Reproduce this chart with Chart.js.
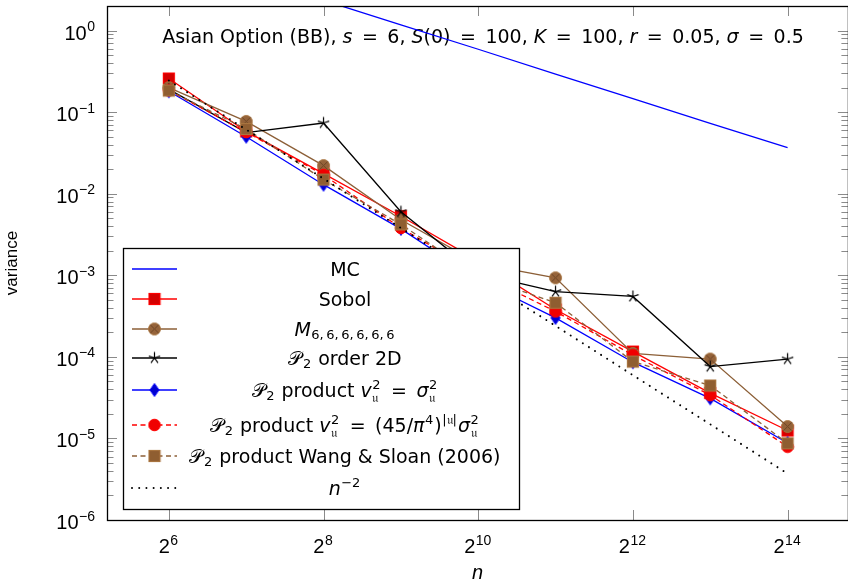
<!DOCTYPE html>
<html><head><meta charset="utf-8">
<script src="https://cdn.jsdelivr.net/npm/chart.js@4.4.1/dist/chart.umd.min.js"></script>
<style>html,body{margin:0;padding:0;background:#fff}canvas{display:block}</style>
</head><body>
<canvas id="c" width="848" height="582"></canvas>
<script>
// ---------------- data ----------------
const nValues   = [64, 128, 256, 512, 1024, 2048, 4096, 8192, 16384];
const mcVar     = [9.4, 4.7, 2.35, 1.17, 0.59, 0.293, 0.146, 0.073, 0.0366];
const sobolVar  = [0.258, 0.058, 0.0176, 0.0053, 0.0015, 0.00038, 0.000116, 0.000036, 0.0000125];
const mNetVar   = [0.2, 0.077, 0.0221, 0.0048, 0.0014, 0.00093, 0.00011, 0.000094, 0.000014];
const order2DVar= [0.19, 0.056, 0.0736, 0.006, 0.00105, 0.00063, 0.00055, 0.000076, 0.000094];
const prodSigVar= [0.18, 0.05, 0.0129, 0.0037, 0.00088, 0.0003, 0.000086, 0.000031, 0.0000088];
const prod45Var = [0.185, 0.057, 0.017, 0.0038, 0.00105, 0.00036, 0.000105, 0.000034, 0.0000079];
const wangSloanVar = [0.184, 0.0622, 0.0149, 0.0042, 0.00098, 0.00046, 0.0000875, 0.0000445, 0.0000087];
const nMinus2   = [0.244, 0.061, 0.0153, 0.0038, 0.00095, 0.00024, 0.0000596, 0.0000149, 0.0000037];

const xTickValues = [64, 256, 1024, 4096, 16384];
const xTickBase = '2';
const xTickExponents = ['6', '8', '10', '12', '14'];
const yTickValues = [1e-6, 1e-5, 1e-4, 1e-3, 1e-2, 1e-1, 1];
const yTickBase = '10';
const yTickExponents = ['−6', '−5', '−4', '−3', '−2', '−1', '0'];

const EQ = '\u2002=\u2002';
const titleRuns = [{t:'Asian Option (BB), '},{t:'s',i:1},{t:EQ + '6, '},{t:'S',i:1},{t:'(0)' + EQ + '100, '},
  {t:'K',i:1},{t:EQ + '100, '},{t:'r',i:1},{t:EQ + '0.05, '},{t:'σ',i:1},{t:EQ + '0.5'}];
const legendLabels = [
  [{t:'MC'}],
  [{t:'Sobol'}],
  [{t:'M',i:1},{sub:'6,\u20096,\u20096,\u20096,\u20096,\u20096'}],
  [{t:'𝒫',c:1},{sub:'2'},{t:' order 2D'}],
  [{t:'𝒫',c:1},{sub:'2'},{t:' product '},{t:'v',i:1},{sup:'2',sub:'𝔲'},{t:EQ},{t:'σ',i:1},{sup:'2',sub:'𝔲'}],
  [{t:'𝒫',c:1},{sub:'2'},{t:' product '},{t:'v',i:1},{sup:'2',sub:'𝔲'},{t:EQ + '(45/'},{t:'π',i:1},{sup:'4'},{t:')'},{sup:'|𝔲|'},{t:'σ',i:1},{sup:'2',sub:'𝔲'}],
  [{t:'𝒫',c:1},{sub:'2'},{t:' product Wang & Sloan (2006)'}],
  [{t:'n',i:1},{sup:'−2'}]
];

// ---------------- styles ----------------
const FONT = '"DejaVu Sans", sans-serif';
const TICKFONT = '"Liberation Sans", Arial, sans-serif';
const CALFONT = '"DejaVu Serif", "DejaVu Sans", serif';
const BROWN = '#8c5f37';

function mk(w, h, draw) { const c = document.createElement('canvas'); c.width = w; c.height = h; draw(c.getContext('2d'), w, h); return c; }
const sqRed = mk(14, 14, g => { g.fillStyle = '#d40000'; g.strokeStyle = '#ff0000'; g.lineWidth = 1.2; g.fillRect(1.5,1.5,11,11); g.strokeRect(1.5,1.5,11,11); });
const sqBrown = mk(14, 14, g => { g.fillStyle = '#8f5e31'; g.strokeStyle = '#a8743f'; g.lineWidth = 1.2; g.fillRect(1.5,1.5,11,11); g.strokeRect(1.5,1.5,11,11); });
const otimes = mk(15, 15, g => { g.fillStyle = '#95633a'; g.strokeStyle = '#a8743f'; g.lineWidth = 1;
  g.beginPath(); g.arc(7.5,7.5,6,0,Math.PI*2); g.fill(); g.stroke();
  g.strokeStyle = '#6e4626'; g.beginPath(); const d = 4.2; g.moveTo(7.5-d,7.5-d); g.lineTo(7.5+d,7.5+d); g.moveTo(7.5+d,7.5-d); g.lineTo(7.5-d,7.5+d); g.stroke(); });
const star5 = mk(15, 15, g => { g.strokeStyle = '#000'; g.lineWidth = 1.2; g.beginPath();
  for (let k = 0; k < 5; k++) { const a = -Math.PI/2 + k*2*Math.PI/5; g.moveTo(7.5,7.5); g.lineTo(7.5+6*Math.cos(a), 7.5+6*Math.sin(a)); } g.stroke(); });
const diamond = mk(12, 16, g => { g.fillStyle = '#0000d0'; g.strokeStyle = '#0000ff'; g.lineWidth = 1;
  g.beginPath(); g.moveTo(6,1.5); g.lineTo(10.5,8); g.lineTo(6,14.5); g.lineTo(1.5,8); g.closePath(); g.fill(); g.stroke(); });
const dotRed = mk(14, 14, g => { g.fillStyle = '#f00000'; g.strokeStyle = '#ff0000'; g.lineWidth = 1; g.beginPath(); g.arc(7,7,5.8,0,Math.PI*2); g.fill(); g.stroke(); });

const pts = arr => arr.map((v, i) => ({x: nValues[i], y: v}));
function ds(label, arr, color, mark, dash, order, width) {
  return { label, data: pts(arr), borderColor: color, backgroundColor: color, borderWidth: width || 1.3,
    borderDash: dash || [], pointStyle: mark || 'circle', pointRadius: mark ? 0.1 : 0, pointHoverRadius: mark ? 0.1 : 0,
    pointBorderWidth: 0, tension: 0, fill: false, order, _mark: mark || null };
}
const datasets = [
  ds('MC', mcVar, '#0000ff', null, null, 8),
  ds('Sobol', sobolVar, '#ff0000', sqRed, null, 7),
  ds('M', mNetVar, BROWN, otimes, null, 6),
  ds('P2 order 2D', order2DVar, '#000000', star5, null, 5),
  ds('P2 product sigma', prodSigVar, '#0000ff', diamond, null, 4),
  ds('P2 product 45/pi^4', prod45Var, '#ff0000', dotRed, [5, 3.5], 3),
  ds('P2 product Wang & Sloan (2006)', wangSloanVar, BROWN, sqBrown, [5, 3.5], 2),
  ds('n^-2', nMinus2, '#000000', null, [0.01, 7.2], 1, 2)
];
datasets[7].borderCapStyle = 'round';

function drawRich(ctx, runs, ax, by, size, align, family) {
  family = family || FONT;
  const small = Math.round(size * 0.7);
  const fontFor = (r, sz) => `${r.i ? 'italic ' : ''}${sz}px ${r.c ? CALFONT : family}`;
  const items = []; let total = 0;
  for (const r of runs) {
    if (r.t !== undefined) { ctx.font = fontFor(r, size); const w = ctx.measureText(r.t).width; items.push({r, w}); total += w; }
    else { let w = 0; ctx.font = `${small}px ${family}`;
      if (r.sup) w = Math.max(w, ctx.measureText(r.sup).width);
      if (r.sub) w = Math.max(w, ctx.measureText(r.sub).width);
      w += 1.5; items.push({r, w}); total += w; }
  }
  let x = align === 'right' ? ax - total : ax - total / 2;
  ctx.textBaseline = 'alphabetic'; ctx.textAlign = 'left'; ctx.fillStyle = '#000';
  for (const it of items) {
    const r = it.r;
    if (r.t !== undefined) { ctx.font = fontFor(r, size); ctx.fillText(r.t, x, by); }
    else { const both = r.sup && r.sub; ctx.font = `${small}px ${family}`;
      if (r.sup) ctx.fillText(r.sup, x + 0.5, by - size * 0.42);
      if (r.sub) ctx.fillText(r.sub, x + 0.5, by + size * (both ? 0.3 : 0.2)); }
    x += it.w;
  }
}

const deco = {
  id: 'deco',
  beforeDatasetsDraw(chart) {
    const ctx = chart.ctx; ctx.save();
    drawRich(ctx, titleRuns, 483, 43, 19);
    ctx.restore();
  },
  afterDatasetsDraw(chart) {
    const {ctx, chartArea: a, scales: {x, y}} = chart;
    ctx.save();
    ctx.strokeStyle = '#8a8a8a'; ctx.lineWidth = 1;
    ctx.beginPath();
    for (const v of xTickValues) {
      const px = Math.round(x.getPixelForValue(v)) + 0.5;
      ctx.moveTo(px, a.bottom); ctx.lineTo(px, a.bottom - 10);
      ctx.moveTo(px, a.top); ctx.lineTo(px, a.top + 10);
    }
    for (let k = -6; k <= 0; k++) {
      const base = Math.pow(10, k);
      const py = Math.round(y.getPixelForValue(base)) + 0.5;
      ctx.moveTo(a.left, py); ctx.lineTo(a.left + 10, py);
      ctx.moveTo(a.right, py); ctx.lineTo(a.right - 10, py);
      for (let m = 2; m <= 9; m++) {
        const v = m * base; if (v >= y.max) continue;
        const qy = Math.round(y.getPixelForValue(v)) + 0.5;
        ctx.moveTo(a.left, qy); ctx.lineTo(a.left + 6.5, qy);
        ctx.moveTo(a.right, qy); ctx.lineTo(a.right - 6.5, qy);
      }
    }
    ctx.stroke();
    ctx.strokeStyle = '#000'; ctx.lineWidth = 1.3;
    ctx.strokeRect(a.left + 0.5, a.top + 0.5, a.right - a.left, a.bottom - a.top);
    // legend
    const L = 123.5, T = 248.5, R = 519.5, B = 509.5;
    ctx.fillStyle = '#fff'; ctx.fillRect(L, T, R - L, B - T);
    ctx.strokeStyle = '#000'; ctx.lineWidth = 1.3; ctx.strokeRect(L, T, R - L, B - T);
    const rows = [269, 299, 329, 358, 390, 425, 456, 488];
    chart.data.datasets.forEach((d, i) => {
      const ry = rows[i];
      ctx.save();
      ctx.strokeStyle = d.borderColor; ctx.lineWidth = d.borderWidth; ctx.setLineDash(d.borderDash || []);
      ctx.lineCap = d.borderCapStyle || 'butt';
      ctx.beginPath(); ctx.moveTo(132, ry); ctx.lineTo(177, ry); ctx.stroke();
      ctx.restore();
      if (d._mark) ctx.drawImage(d._mark, 154.5 - d._mark.width / 2, ry - d._mark.height / 2);
      drawRich(ctx, legendLabels[i], 345, ry + 6.5, 19);
    });
    ctx.restore();
  },
  afterDraw(chart) {
    const {ctx, chartArea: a, scales: {x, y}} = chart;
    ctx.save();
    x.ticks.forEach((t, i) => {
      const px = x.getPixelForValue(t.value);
      drawRich(ctx, [{t: xTickBase}, {sup: xTickExponents[i]}], px, a.bottom + 33, 20, 'center', TICKFONT);
    });
    y.ticks.forEach((t, i) => {
      const py = y.getPixelForValue(t.value);
      drawRich(ctx, [{t: yTickBase}, {sup: yTickExponents[i]}], a.left - 11, py + 9, 20, 'right', TICKFONT);
    });
    ctx.restore();
  }
};

const zeroPad = s => { s.paddingTop = 0; s.paddingBottom = 0; s.paddingLeft = 0; s.paddingRight = 0; };

new Chart(document.getElementById('c'), {
  type: 'line',
  data: { datasets },
  options: {
    responsive: false, animation: false, devicePixelRatio: 1, events: [],
    layout: { padding: { top: 6, right: 0, left: 0, bottom: 0 } },
    plugins: { legend: { display: false }, tooltip: { enabled: false } },
    scales: {
      x: {
        type: 'logarithmic', min: Math.pow(2, 5.2), max: Math.pow(2, 14.78),
        afterBuildTicks: s => { s.ticks = xTickValues.map(v => ({value: v})); },
        afterFit: s => { s.height = 62; zeroPad(s); },
        grid: { display: false, drawTicks: false },
        border: { display: false },
        ticks: { display: false },
        title: { display: true, text: 'n', color: '#000', font: { family: TICKFONT, size: 20, style: 'italic' }, padding: { top: 0, bottom: -3 } }
      },
      y: {
        type: 'logarithmic', min: 1e-6, max: 2,
        afterBuildTicks: s => { s.ticks = yTickValues.map(v => ({value: v})); },
        afterFit: s => { s.width = 107; zeroPad(s); },
        grid: { display: false, drawTicks: false },
        border: { display: false },
        ticks: { display: false },
        title: { display: true, text: 'variance', color: '#000', font: { family: TICKFONT, size: 17 }, padding: { top: 2, bottom: 0 } }
      }
    }
  },
  plugins: [deco]
});
</script>
</body></html>
